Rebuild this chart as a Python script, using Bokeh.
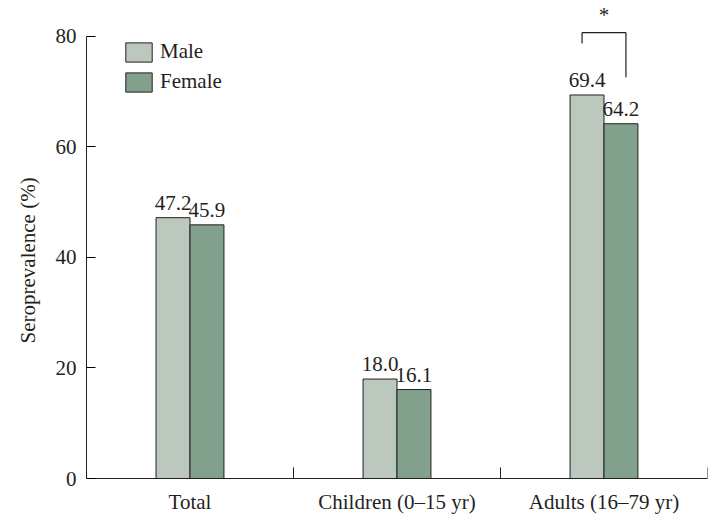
from bokeh.plotting import figure
from bokeh.models import ColumnDataSource, FactorRange, Range1d, FixedTicker, Title
from bokeh.transform import dodge
from bokeh.core.properties import value
from bokeh.embed import file_html
from bokeh.resources import INLINE

# ---- data ----
categories = ["Total", "Children (0–15 yr)", "Adults (16–79 yr)"]
male = [47.2, 18.0, 69.4]
female = [45.9, 16.1, 64.2]
y_ticks = [0, 20, 40, 60, 80]
series_names = ["Male", "Female"]
sig_category = "Adults (16–79 yr)"
sig_mark = "*"

# ---- style ----
FONT = "Liberation Serif"
FS = "21px"
TXT = "#231f20"
MALE_C = "#bcc8bd"
FEMALE_C = "#82a18c"
BAR_W = 0.164
OFF = 0.082

src = ColumnDataSource(dict(
    cat=categories,
    male=male,
    female=female,
    male_lbl=[f"{v:.1f}" for v in male],
    female_lbl=[f"{v:.1f}" for v in female],
    zero=[0] * len(categories),
    tick_top=[2.0] * len(categories),
))

p = figure(
    width=708, height=516,
    x_range=FactorRange(factors=categories, range_padding=0),
    y_range=Range1d(0, 86.5),
    output_backend="svg", toolbar_location=None,
    min_border_left=84, min_border_right=1, min_border_top=0, min_border_bottom=38,
)
p.outline_line_color = None
p.grid.visible = False
p.background_fill_color = "white"
p.border_fill_color = "white"

p.vbar(x=dodge("cat", -OFF, range=p.x_range), top="male", width=BAR_W, source=src,
       fill_color=MALE_C, line_color=TXT, line_width=1, legend_label=series_names[0])
p.vbar(x=dodge("cat", OFF, range=p.x_range), top="female", width=BAR_W, source=src,
       fill_color=FEMALE_C, line_color=TXT, line_width=1, legend_label=series_names[1])

# value labels
for off, col in ((-OFF, "male"), (OFF, "female")):
    p.text(x=dodge("cat", off, range=p.x_range), y=col, text=col + "_lbl", source=src,
           text_font=value(FONT), text_font_size=FS, text_color=TXT,
           text_align="center", text_baseline="alphabetic", y_offset=-15)

# category boundary ticks (pointing inward)
p.segment(x0=dodge("cat", 0.5, range=p.x_range), x1=dodge("cat", 0.5, range=p.x_range),
          y0="zero", y1="tick_top", source=src, line_color=TXT, line_width=1)

# significance bracket
i = categories.index(sig_category)
top_y = male[i] + 11.3
sig_src = ColumnDataSource(dict(cat=[sig_category], top=[top_y],
                                lb=[male[i] + 9.3], rb=[female[i] + 8.4],
                                star=[top_y + 1.9], mark=[sig_mark]))
L = dodge("cat", -0.106, range=p.x_range)
R = dodge("cat", 0.106, range=p.x_range)
p.segment(x0=L, x1=R, y0="top", y1="top", source=sig_src, line_color=TXT, line_width=1.2)
p.segment(x0=L, x1=L, y0="top", y1="lb", source=sig_src, line_color=TXT, line_width=1.2)
p.segment(x0=R, x1=R, y0="top", y1="rb", source=sig_src, line_color=TXT, line_width=1.2)
p.text(x="cat", y="star", text="mark", source=sig_src, text_font=value(FONT),
       text_font_size=FS, text_color=TXT, text_align="center", text_baseline="alphabetic",
       y_offset=-7)

# y axis
ya = p.yaxis[0]
ya.ticker = FixedTicker(ticks=y_ticks)
ya.bounds = (0, 80)
ya.major_tick_in = 9
ya.major_tick_out = 0
ya.minor_tick_line_color = None
ya.major_label_standoff = 10
ya.major_label_text_font = FONT
ya.major_label_text_font_size = FS
ya.major_label_text_color = TXT
ya.axis_line_color = TXT

# x axis
xa = p.xaxis[0]
xa.major_tick_line_color = None
xa.major_label_standoff = 5
xa.major_label_text_font = FONT
xa.major_label_text_font_size = FS
xa.major_label_text_color = TXT
xa.axis_line_color = TXT

# y axis title
p.add_layout(Title(text="Seroprevalence (%)", align="left", offset=135, standoff=26,
                   text_font=FONT, text_font_size=FS, text_font_style="normal",
                   text_color=TXT), "left")

# legend
lg = p.legend[0]
lg.location = (36, 384)
lg.padding = 0
lg.margin = 0
lg.spacing = 5
lg.glyph_width = 33
lg.glyph_height = 24
lg.label_height = 19
lg.label_standoff = 5
lg.label_text_font = FONT
lg.label_text_font_size = FS
lg.label_text_color = TXT
lg.border_line_color = None
lg.background_fill_alpha = 0

open("out.html", "w").write(file_html(p, INLINE))
